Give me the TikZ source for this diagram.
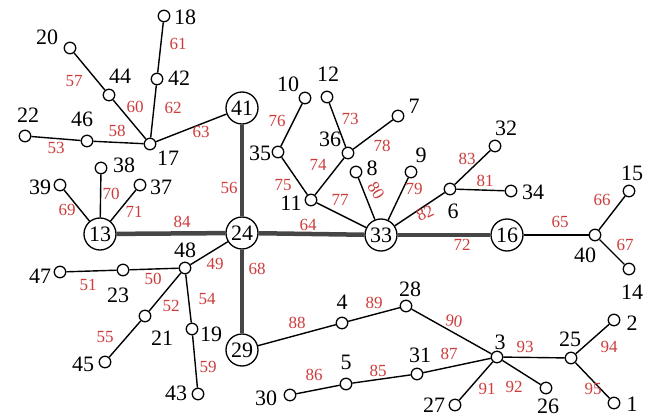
\documentclass[tikz,border=0pt]{standalone}
\usepackage{fontspec}
\setmainfont{Liberation Serif}
\definecolor{elabred}{RGB}{205,60,60}
\definecolor{thickgray}{RGB}{70,70,70}
\begin{document}
\begin{tikzpicture}[x=1pt,y=-1pt,
  v/.style={circle,draw,line width=1.3pt,minimum size=11.5pt,inner sep=0pt,fill=white},
  bn/.style={circle,draw,line width=1.3pt,minimum size=32pt,inner sep=0pt,fill=white,font=\fontsize{22}{22}\selectfont},
  nl/.style={font=\fontsize{22}{22}\selectfont,inner sep=0pt},
  el/.style={font=\fontsize{17}{17}\selectfont,text=elabred,inner sep=0pt},
  e/.style={line width=1.4pt},
  te/.style={line width=4.5pt,thickgray}]
\useasboundingbox (0,0) rectangle (649,417);
% big nodes
\node[bn] (n41) at (242,108) {41};
\node[bn] (n24) at (242,233) {24};
\node[bn] (n13) at (100,234) {13};
\node[bn] (n33) at (381,235) {33};
\node[bn] (n16) at (507,235) {16};
\node[bn] (n29) at (242,350) {29};
% small nodes
\node[v] (n18) at (164,16) {};
\node[v] (n20) at (70,48) {};
\node[v] (n44) at (109,95) {};
\node[v] (n42) at (157,79) {};
\node[v] (n46) at (87,141) {};
\node[v] (n22) at (25,136) {};
\node[v] (n17) at (150,144) {};
\node[v] (n10) at (305,98) {};
\node[v] (n12) at (327,97) {};
\node[v] (n7) at (398,116) {};
\node[v] (n36) at (348,153) {};
\node[v] (n35) at (278,152) {};
\node[v] (n8) at (356,172) {};
\node[v] (n9) at (411,172) {};
\node[v] (n11) at (311,200) {};
\node[v] (n6) at (450,189) {};
\node[v] (n32) at (495,146) {};
\node[v] (n34) at (511,191) {};
\node[v] (n38) at (101,168) {};
\node[v] (n39) at (60,185) {};
\node[v] (n37) at (140,185) {};
\node[v] (n40) at (595,235) {};
\node[v] (n15) at (629,191) {};
\node[v] (n14) at (629,269) {};
\node[v] (n48) at (185,268) {};
\node[v] (n47) at (60,272) {};
\node[v] (n23) at (123,270) {};
\node[v] (n21) at (145,316) {};
\node[v] (n45) at (105,362) {};
\node[v] (n19) at (192,329) {};
\node[v] (n43) at (198,394) {};
\node[v] (n4) at (342,323) {};
\node[v] (n28) at (406,306) {};
\node[v] (n5) at (346,384) {};
\node[v] (n31) at (417,374) {};
\node[v] (n30) at (290,395) {};
\node[v] (n3) at (497,357) {};
\node[v] (n27) at (455,405) {};
\node[v] (n26) at (546,388) {};
\node[v] (n25) at (571,358) {};
\node[v] (n2) at (614,320) {};
\node[v] (n1) at (614,403) {};
% node labels
\node[nl] (l18) at (185,17) {18};
\node[nl] (l20) at (47,37) {20};
\node[nl] (l44) at (120,76) {44};
\node[nl] (l42) at (179,78) {42};
\node[nl] (l46) at (82,119) {46};
\node[nl] (l22) at (28,115) {22};
\node[nl] (l17) at (168,158) {17};
\node[nl] (l10) at (288,84) {10};
\node[nl] (l12) at (328,74) {12};
\node[nl] (l7) at (414,106) {7};
\node[nl] (l36) at (330,139) {36};
\node[nl] (l35) at (260,153) {35};
\node[nl] (l8) at (372,168) {8};
\node[nl] (l9) at (421,155) {9};
\node[nl] (l11) at (291,203) {11};
\node[nl] (l6) at (453,211) {6};
\node[nl] (l32) at (506,128) {32};
\node[nl] (l34) at (533,192) {34};
\node[nl] (l38) at (124,165) {38};
\node[nl] (l39) at (40,187) {39};
\node[nl] (l37) at (161,187) {37};
\node[nl] (l40) at (585,255) {40};
\node[nl] (l15) at (632,173) {15};
\node[nl] (l14) at (632,292) {14};
\node[nl] (l48) at (185,250) {48};
\node[nl] (l47) at (40,276) {47};
\node[nl] (l23) at (118,295) {23};
\node[nl] (l21) at (162,338) {21};
\node[nl] (l45) at (83,364) {45};
\node[nl] (l19) at (211,334) {19};
\node[nl] (l43) at (176,393) {43};
\node[nl] (l4) at (342,302) {4};
\node[nl] (l28) at (410,289) {28};
\node[nl] (l5) at (346,362) {5};
\node[nl] (l31) at (420,355) {31};
\node[nl] (l30) at (266,398) {30};
\node[nl] (l3) at (500,342) {3};
\node[nl] (l27) at (434,405) {27};
\node[nl] (l26) at (548,406) {26};
\node[nl] (l25) at (570,339) {25};
\node[nl] (l2) at (632,323) {2};
\node[nl] (l1) at (632,404) {1};
% thick edges
\draw[te] (n41) -- (n24);
\draw[te] (n13) -- (n24);
\draw[te] (n24) -- (n33);
\draw[te] (n33) -- (n16);
\draw[te] (n24) -- (n29);
% thin edges
\draw[e] (n18) -- (n42);
\draw[e] (n20) -- (n44);
\draw[e] (n44) -- (n17);
\draw[e] (n42) -- (n17);
\draw[e] (n41) -- (n17);
\draw[e] (n22) -- (n46);
\draw[e] (n46) -- (n17);
\draw[e] (n10) -- (n35);
\draw[e] (n12) -- (n36);
\draw[e] (n7) -- (n36);
\draw[e] (n35) -- (n11);
\draw[e] (n36) -- (n11);
\draw[e] (n11) -- (n33);
\draw[e] (n8) -- (n33);
\draw[e] (n9) -- (n33);
\draw[e] (n6) -- (n33);
\draw[e] (n6) -- (n32);
\draw[e] (n6) -- (n34);
\draw[e] (n16) -- (n40);
\draw[e] (n40) -- (n15);
\draw[e] (n40) -- (n14);
\draw[e] (n13) -- (n38);
\draw[e] (n13) -- (n39);
\draw[e] (n13) -- (n37);
\draw[e] (n24) -- (n48);
\draw[e] (n48) -- (n23);
\draw[e] (n23) -- (n47);
\draw[e] (n48) -- (n21);
\draw[e] (n21) -- (n45);
\draw[e] (n48) -- (n19);
\draw[e] (n19) -- (n43);
\draw[e] (n29) -- (n4);
\draw[e] (n4) -- (n28);
\draw[e] (n28) -- (n3);
\draw[e] (n31) -- (n3);
\draw[e] (n5) -- (n31);
\draw[e] (n30) -- (n5);
\draw[e] (n3) -- (n27);
\draw[e] (n3) -- (n26);
\draw[e] (n3) -- (n25);
\draw[e] (n25) -- (n2);
\draw[e] (n25) -- (n1);
% edge labels
\node[el] (e61) at (178,44) {61};
\node[el] (e57) at (74,81) {57};
\node[el] (e60) at (135,107) {60};
\node[el] (e62) at (173,108) {62};
\node[el] (e63) at (201,132) {63};
\node[el] (e53) at (56,148) {53};
\node[el] (e58) at (117,131) {58};
\node[el] (e56) at (229,188) {56};
\node[el] (e76) at (277,121) {76};
\node[el] (e73) at (350,119) {73};
\node[el] (e78) at (382,146) {78};
\node[el] (e75) at (283,185) {75};
\node[el] (e74) at (318,165) {74};
\node[el] (e77) at (340,200) {77};
\node[el,rotate=-58] (e80) at (376,191) {80};
\node[el] (e79) at (414,189) {79};
\node[el,rotate=25] (e82) at (425,213) {82};
\node[el] (e83) at (467,159) {83};
\node[el] (e81) at (485,181) {81};
\node[el] (e64) at (308,225) {64};
\node[el] (e72) at (462,245) {72};
\node[el] (e65) at (560,222) {65};
\node[el] (e66) at (602,200) {66};
\node[el] (e67) at (625,245) {67};
\node[el] (e70) at (111,194) {70};
\node[el] (e69) at (67,210) {69};
\node[el] (e71) at (134,212) {71};
\node[el] (e84) at (182,222) {84};
\node[el] (e49) at (215,264) {49};
\node[el] (e50) at (153,279) {50};
\node[el] (e51) at (88,285) {51};
\node[el] (e52) at (171,306) {52};
\node[el] (e55) at (105,337) {55};
\node[el] (e54) at (207,299) {54};
\node[el] (e59) at (208,367) {59};
\node[el] (e68) at (257,269) {68};
\node[el] (e88) at (297,323) {88};
\node[el] (e89) at (374,303) {89};
\node[el,rotate=-8] (e90) at (454,321) {90};
\node[el] (e87) at (449,354) {87};
\node[el] (e85) at (378,371) {85};
\node[el] (e86) at (314,375) {86};
\node[el] (e91) at (487,389) {91};
\node[el] (e92) at (514,387) {92};
\node[el] (e93) at (525,347) {93};
\node[el] (e94) at (609,347) {94};
\node[el] (e95) at (593,389) {95};
\end{tikzpicture}
\end{document}
